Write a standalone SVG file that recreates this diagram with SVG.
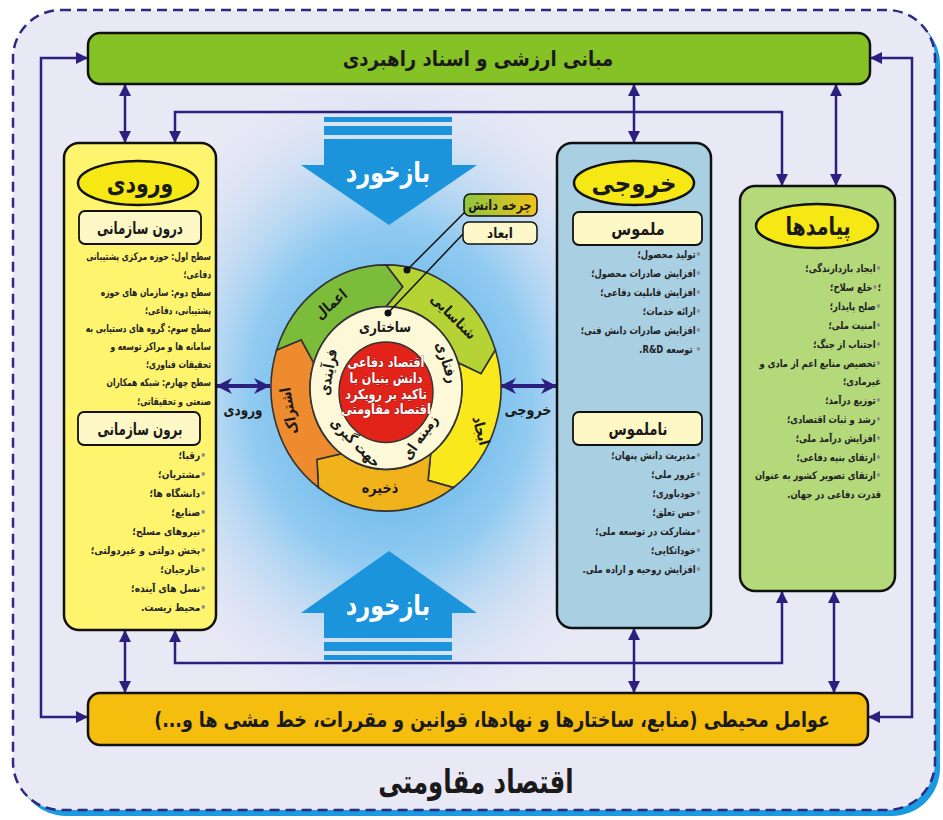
<svg xmlns="http://www.w3.org/2000/svg" width="943" height="820" viewBox="0 0 943 820">
<defs>
<style>
.t{font-family:"DejaVu Sans",sans-serif;font-weight:bold;fill:#1a1a1a}
.li{font-family:"DejaVu Sans",sans-serif;font-weight:bold;font-size:10.5px;fill:#222}
.bx{stroke:#111;stroke-width:2.5}
.sub{fill:#fdf8c6;stroke:#111;stroke-width:1.8}
.hdr{fill:#f6e814;stroke:#111;stroke-width:2.5}
.cn{fill:none;stroke:#2b1f80;stroke-width:2.5;marker-start:url(#ah);marker-end:url(#ah)}
.cb{fill:none;stroke:#2b1f80;stroke-width:4;marker-start:url(#ahb);marker-end:url(#ahb)}
.seg{stroke:#333;stroke-width:1.6}
.blu{fill:#1b94dc}
.bul{fill:#8a8a8a}
.wt{fill:#fff}
</style>
<marker id="ah" viewBox="0 0 10 10" refX="10" refY="5" markerWidth="13" markerHeight="12" markerUnits="userSpaceOnUse" orient="auto-start-reverse"><path d="M0,0 L10,5 L0,10 z" fill="#2b1f80"/></marker>
<marker id="ahb" viewBox="0 0 10 10" refX="10" refY="5" markerWidth="16" markerHeight="16" markerUnits="userSpaceOnUse" orient="auto-start-reverse"><path d="M0,0 L10,5 L0,10 L3,5 z" fill="#2b1f80"/></marker>
<radialGradient id="glow" cx="390" cy="395" r="300" gradientUnits="userSpaceOnUse" gradientTransform="translate(390 395) scale(0.95 1.15) translate(-390 -395)">
<stop offset="0" stop-color="#4aa8e6"/>
<stop offset="0.5" stop-color="#92cbf1"/>
<stop offset="1" stop-color="#e9e8f5" stop-opacity="0"/>
</radialGradient>
<linearGradient id="kc" x1="0" y1="0" x2="1" y2="0"><stop offset="0" stop-color="#8cc63f"/><stop offset="1" stop-color="#f2c21a"/></linearGradient>
</defs>
<rect width="943" height="820" fill="#ffffff"/>
<g id="frame">
<rect x="18" y="16" width="922" height="800" rx="48" fill="#1a9ae0"/>
<rect x="13" y="10" width="922" height="800" rx="48" fill="#e9e8f5" stroke="#2e2a82" stroke-width="2.5" stroke-dasharray="10 6"/>
<rect x="160" y="90" width="460" height="610" fill="url(#glow)"/>
</g>
<g id="connectors">
<path class="cn" d="M88,58 H41 V717 H88"/>
<path class="cn" d="M870,58 H912 V717 H868"/>
<path class="cn" d="M125,84 V143"/>
<path class="cn" d="M125,630 V693"/>
<path class="cn" d="M634,84 V143"/>
<path class="cn" d="M634,628 V693"/>
<path class="cn" d="M836,84 V186"/>
<path class="cn" d="M834,591 V693"/>
<path class="cn" d="M175,143 V112 H782 V186"/>
<path class="cn" d="M175,630 V663 H782 V591"/>
<path class="cb" d="M216,386 H270"/>
<path class="cb" d="M500,386 H557"/>
</g>
<g id="feedback-top">
<rect class="blu" x="324" y="117" width="128" height="5"/>
<rect class="blu" x="324" y="126" width="128" height="9"/>
<path class="blu" d="M324,139 H452 V165 H477 L389,225 L301,165 H324 Z"/>
<text class="t wt" font-size="28" text-anchor="middle" transform="translate(388,182) scale(0.8,1)">بازخورد</text>
</g>
<g id="feedback-bottom">
<rect class="blu" x="324" y="655" width="128" height="5"/>
<rect class="blu" x="324" y="642" width="128" height="9"/>
<path class="blu" d="M324,638 H452 V613 H477 L389,551 L301,613 H324 Z"/>
<text class="t wt" font-size="28" text-anchor="middle" transform="translate(388,615) scale(0.8,1)">بازخورد</text>
</g>
<g id="top-bar">
<rect class="bx" x="88" y="33" width="782" height="51" rx="12" fill="#85c226"/>
<text class="t" font-size="21" text-anchor="middle" transform="translate(478,66) scale(0.86,1)">مبانی ارزشی و اسناد راهبردی</text>
</g>
<g id="bottom-bar">
<rect class="bx" x="88" y="693" width="780" height="52" rx="12" fill="#f5bd0e"/>
<text class="t" font-size="21" text-anchor="middle" transform="translate(492,727) scale(0.83,1)">عوامل محیطی (منابع، ساختارها و نهادها، قوانین و مقررات، خط مشی ها و...)</text>
</g>
<text class="t" font-size="33" text-anchor="middle" transform="translate(476,793) scale(0.74,1)">اقتصاد مقاومتی</text>
<g id="input">
<rect class="bx" x="64" y="143" width="152" height="487" rx="15" fill="#fef46e"/>
<ellipse class="hdr" cx="138" cy="183" rx="60" ry="22"/>
<text class="t" font-size="25" text-anchor="middle" transform="translate(140,192) scale(0.82,1)">ورودی</text>
<rect class="sub" x="79" y="211" width="122" height="33" rx="6"/>
<text class="t" font-size="17" text-anchor="middle" transform="translate(140,234) scale(0.7,1)">درون سازمانی</text>
<g class="li" direction="rtl" transform="translate(211,0) scale(0.72,1)">
<text y="260">سطح اول: حوزه مرکزی پشتیبانی</text>
<text y="278">دفاعی؛</text>
<text y="296">سطح دوم: سازمان های حوزه</text>
<text y="314">پشتیبانی، دفاعی؛</text>
<text y="332">سطح سوم: گروه های دستیابی به</text>
<text y="350">سامانه ها و مراکز توسعه و</text>
<text y="368">تحقیقات فناوری؛</text>
<text y="386">سطح چهارم: شبکه همکاران</text>
<text y="405">صنعتی و تحقیقاتی؛</text>
</g>
<rect class="sub" x="78" y="412" width="122" height="33" rx="6"/>
<text class="t" font-size="17" text-anchor="middle" transform="translate(140,435) scale(0.7,1)">برون سازمانی</text>
<g class="li" direction="rtl" transform="translate(206,0) scale(0.86,1)">
<text y="459"><tspan class="bul">•</tspan>رقبا؛</text>
<text y="478"><tspan class="bul">•</tspan>مشتریان؛</text>
<text y="497"><tspan class="bul">•</tspan>دانشگاه ها؛</text>
<text y="516"><tspan class="bul">•</tspan>صنایع؛</text>
<text y="535"><tspan class="bul">•</tspan>نیروهای مسلح؛</text>
<text y="554"><tspan class="bul">•</tspan>بخش دولتی و غیردولتی؛</text>
<text y="573"><tspan class="bul">•</tspan>خارجیان؛</text>
<text y="592"><tspan class="bul">•</tspan>نسل های آینده؛</text>
<text y="611"><tspan class="bul">•</tspan>محیط زیست.</text>
</g>
</g>
<g id="output">
<rect class="bx" x="557" y="143" width="154" height="485" rx="15" fill="#a9cfe2"/>
<ellipse class="hdr" cx="634" cy="183" rx="60" ry="22"/>
<text class="t" font-size="25" text-anchor="middle" transform="translate(634,192) scale(0.92,1)">خروجی</text>
<rect class="sub" x="573" y="212" width="129" height="33" rx="6"/>
<text class="t" font-size="17" text-anchor="middle" transform="translate(638,235) scale(0.85,1)">ملموس</text>
<g class="li" direction="rtl" transform="translate(701,0) scale(0.8,1)">
<text y="258"><tspan class="bul">•</tspan>تولید محصول؛</text>
<text y="277"><tspan class="bul">•</tspan>افزایش صادرات محصول؛</text>
<text y="296"><tspan class="bul">•</tspan>افزایش قابلیت دفاعی؛</text>
<text y="315"><tspan class="bul">•</tspan>ارائه خدمات؛</text>
<text y="334"><tspan class="bul">•</tspan>افزایش صادرات دانش فنی؛</text>
<text y="353"><tspan class="bul">•</tspan> توسعه R&amp;D.</text>
</g>
<rect class="sub" x="573" y="412" width="129" height="33" rx="6"/>
<text class="t" font-size="17" text-anchor="middle" transform="translate(638,435) scale(0.78,1)">ناملموس</text>
<g class="li" direction="rtl" transform="translate(701,0) scale(0.8,1)">
<text y="459"><tspan class="bul">•</tspan>مدیریت دانش پنهان؛</text>
<text y="478"><tspan class="bul">•</tspan>غرور ملی؛</text>
<text y="497"><tspan class="bul">•</tspan>خودباوری؛</text>
<text y="516"><tspan class="bul">•</tspan>حس تعلق؛</text>
<text y="535"><tspan class="bul">•</tspan>مشارکت در توسعه ملی؛</text>
<text y="554"><tspan class="bul">•</tspan>خوداتکایی؛</text>
<text y="573"><tspan class="bul">•</tspan>افزایش روحیه و اراده ملی.</text>
</g>
</g>
<g id="outcomes">
<rect class="bx" x="740" y="186" width="155" height="405" rx="15" fill="#b3d97a"/>
<ellipse class="hdr" cx="817" cy="226" rx="61" ry="22"/>
<text class="t" font-size="25" text-anchor="middle" transform="translate(818,235) scale(0.76,1)">پیامدها</text>
<g class="li" direction="rtl" transform="translate(881,0) scale(0.8,1)">
<text y="272"><tspan class="bul">•</tspan>ایجاد بازدارندگی؛</text>
<text y="291">؛<tspan class="bul">•</tspan>خلع سلاح؛</text>
<text y="310"><tspan class="bul">•</tspan>صلح پایدار؛</text>
<text y="329"><tspan class="bul">•</tspan>امنیت ملی؛</text>
<text y="348"><tspan class="bul">•</tspan>اجتناب از جنگ؛</text>
<text y="367"><tspan class="bul">•</tspan>تخصیص منابع اعم از مادی و</text>
<text y="385">غیرمادی؛</text>
<text y="404"><tspan class="bul">•</tspan>توزیع درآمد؛</text>
<text y="423"><tspan class="bul">•</tspan>رشد و ثبات اقتصادی؛</text>
<text y="442"><tspan class="bul">•</tspan>افزایش درآمد ملی؛</text>
<text y="461"><tspan class="bul">•</tspan>ارتقای بنیه دفاعی؛</text>
<text y="479"><tspan class="bul">•</tspan>ارتقای تصویر کشور به عنوان</text>
<text y="498">قدرت دفاعی در جهان.</text>
</g>
</g>
<g id="knowledge-cycle">
<g transform="translate(386,388) scale(1,1.07)">
<path class="seg" fill="#b5d334" d="M0,-115 A115,115 0 0 1 109.38,-35.54 L95.07,-13.36 L72.28,-23.48 A76,76 0 0 0 0,-76 L16.67,-94.54 Z"/>
<path class="seg" fill="#f8e81c" d="M109.38,-35.54 A115,115 0 0 1 67.60,93.04 L42.08,86.28 L44.67,61.48 A76,76 0 0 0 72.28,-23.48 L95.07,-13.36 Z"/>
<path class="seg" fill="#f0b31c" d="M67.60,93.04 A115,115 0 0 1 -67.60,93.04 L-69.06,66.69 L-44.67,61.48 A76,76 0 0 0 44.67,61.48 L42.08,86.28 Z"/>
<path class="seg" fill="#ee8b2e" d="M-67.60,93.04 A115,115 0 0 1 -109.38,-35.54 L-84.76,-45.07 L-72.28,-23.48 A76,76 0 0 0 -44.67,61.48 L-69.06,66.69 Z"/>
<path class="seg" fill="#7bbd3b" d="M-109.38,-35.54 A115,115 0 0 1 0,-115 L16.67,-94.54 L0,-76 A76,76 0 0 0 -72.28,-23.48 L-84.76,-45.07 Z"/>
<circle r="76" fill="#fdf9d8" stroke="#333" stroke-width="1.6"/>
<circle cy="4" r="47" fill="#e2231a" stroke="#333" stroke-width="1.4"/>
</g>
<text class="t" font-size="15" text-anchor="middle" transform="translate(334,308) rotate(-40) scale(0.85,1)">اعمال</text>
<text class="t" font-size="15" text-anchor="middle" transform="translate(450,320) rotate(45) scale(0.85,1)">شناسایی</text>
<text class="t" font-size="15" text-anchor="middle" transform="translate(476,432) rotate(75) scale(0.85,1)">ایجاد</text>
<text class="t" font-size="15" text-anchor="middle" transform="translate(380,493) scale(0.85,1)">ذخیره</text>
<text class="t" font-size="15" text-anchor="middle" transform="translate(294,410) rotate(-100) scale(0.85,1)">اشتراک</text>
<text class="t" font-size="15" text-anchor="middle" transform="translate(385,332) scale(0.8,1)">ساختاری</text>
<text class="t" font-size="15" text-anchor="middle" transform="translate(442,364) rotate(72) scale(0.8,1)">رفتاری</text>
<text class="t" font-size="15" text-anchor="middle" transform="translate(424,440) rotate(-55) scale(0.8,1)">زمینه ای</text>
<text class="t" font-size="15" text-anchor="middle" transform="translate(352,446) rotate(45) scale(0.8,1)">جهت گیری</text>
<text class="t" font-size="15" text-anchor="middle" transform="translate(333,373) rotate(-80) scale(0.8,1)">فرآیندی</text>
<g class="t" font-size="14" text-anchor="middle" style="fill:#fff;stroke:#5a1010;stroke-width:0.7;paint-order:stroke">
<text transform="translate(386,367) scale(0.8,1)">اقتصاد دفاعی</text>
<text transform="translate(386,383) scale(0.8,1)">دانش بنیان با</text>
<text transform="translate(386,399) scale(0.8,1)">تاکید بر رویکرد</text>
<text transform="translate(386,414) scale(0.8,1)">اقتصاد مقاومتی</text>
</g>
</g>
<g id="cycle-legend">
<path d="M465,212 L407,270" stroke="#111" stroke-width="1.5" fill="none"/>
<path d="M463,234 L388,313" stroke="#111" stroke-width="1.5" fill="none"/>
<circle cx="407" cy="270" r="3.5" fill="#111"/>
<circle cx="388" cy="313" r="3.5" fill="#111"/>
<rect x="464" y="194" width="73" height="22" rx="6" fill="url(#kc)" stroke="#111" stroke-width="1.5"/>
<text class="t" font-size="14" text-anchor="middle" transform="translate(500,210) scale(0.8,1)">چرخه دانش</text>
<rect x="463" y="222" width="74" height="22" rx="6" fill="#fdf7c9" stroke="#111" stroke-width="1.5"/>
<text class="t" font-size="14" text-anchor="middle" transform="translate(500,238) scale(0.85,1)">ابعاد</text>
</g>
<text class="t" font-size="15" text-anchor="middle" transform="translate(243,415) scale(0.8,1)">ورودی</text>
<text class="t" font-size="15" text-anchor="middle" transform="translate(528,415) scale(0.85,1)">خروجی</text>
</svg>
